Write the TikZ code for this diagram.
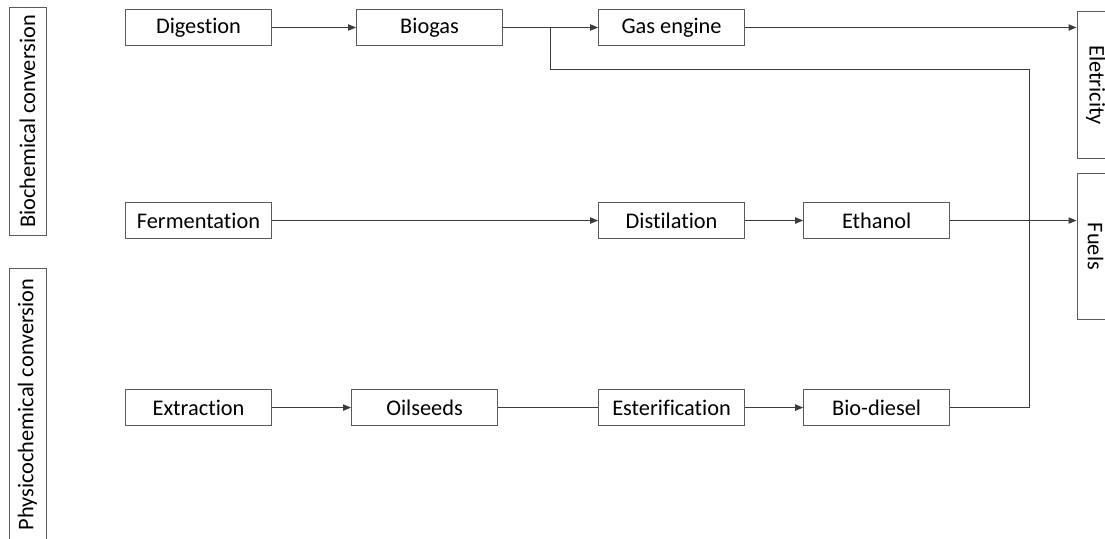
\documentclass[tikz,border=0pt]{standalone}
\usepackage{fontspec}
\setmainfont{Carlito}[Ligatures=NoCommon]
\usepackage{tikz}
\usetikzlibrary{arrows.meta,positioning,calc}
\definecolor{boxline}{RGB}{90,90,90}
\definecolor{wireline}{RGB}{60,60,60}

\begin{document}
\begin{tikzpicture}[
    x=0.025cm, y=-0.025cm,
    box/.style={rectangle, draw=boxline, line width=0.7pt, minimum width=3.65cm, minimum height=0.9cm, inner sep=0pt, align=center, font=\fontsize{15.9}{19}\selectfont},
    sidebox/.style={box, minimum height=0.925cm},
    wire/.style={draw=wireline, line width=0.7pt},
    arrow/.style={wire, -{Triangle[length=2mm,width=1.6mm]}}
]
    \useasboundingbox (0,0) rectangle (1105,539);

    % Side labels
    \node[sidebox, rotate=90, minimum width=5.675cm] (bioc) at (27.5,121.5) {Biochemical conversion};
    \node[sidebox, rotate=90, minimum width=6.775cm] (phys) at (27.5,404.5) {Physicochemical conversion};

    % Biogas row
    \node[box] (dig) at (198.5,27.5) {Digestion};
    \node[box, right=2.1cm of dig] (bio) {Biogas};
    \node[box, right=2.375cm of bio] (gas) {Gas engine};

    % Ethanol row
    \node[box, below=3.9cm of dig] (fer) {Fermentation};
    \node[box] (dist) at (gas |- fer) {Distilation};
    \node[box, right=1.45cm of dist] (eth) {Ethanol};

    % Bio-diesel row
    \node[box, below=3.75cm of fer] (ext) {Extraction};
    \node[box, right=1.975cm of ext] (oil) {Oilseeds};
    \node[box] (est) at (gas |- ext) {Esterification};
    \node[box] (bd) at (eth |- ext) {Bio-diesel};

    % Products
    \node[sidebox, rotate=-90] (ele) at (1095.5,85) {Eletricity};
    \node[sidebox, rotate=-90] (fuel) at (1095.5,246.5) {Fuels};

    % Junctions
    \coordinate (br) at ($(bio.east)!0.5!(gas.west)$);
    \coordinate (jn) at (1029,69);

    % Edges
    \draw[arrow] (dig) -- (bio);
    \draw[arrow] (bio) -- (gas);
    \draw[arrow] (gas) -- (gas -| ele.south);
    \draw[wire] (br) |- (jn) -- (jn |- eth);
    \draw[arrow] (fer) -- (dist);
    \draw[arrow] (dist) -- (eth);
    \draw[arrow] (eth) -- (eth -| fuel.south);
    \draw[arrow] (ext) -- (oil);
    \draw[wire] (oil) -- (est);
    \draw[arrow] (est) -- (bd);
    \draw[wire] (bd) -| (jn |- eth);
\end{tikzpicture}
\end{document}
